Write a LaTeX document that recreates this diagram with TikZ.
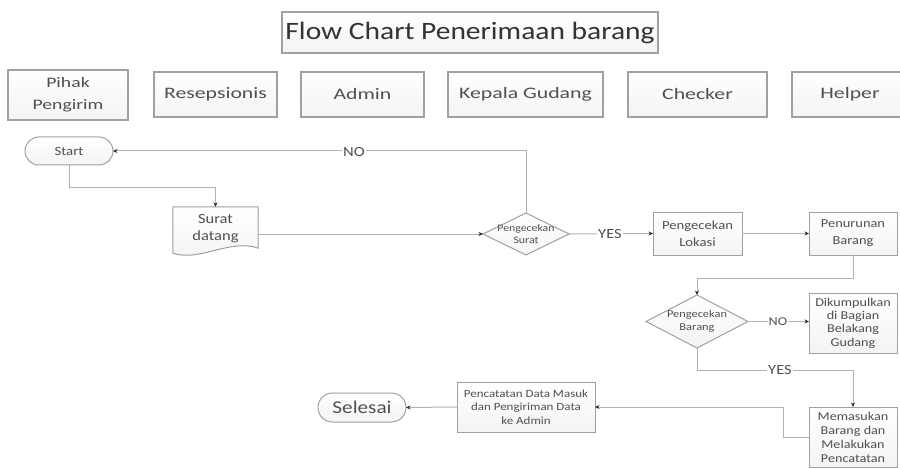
\documentclass[tikz,border=0pt]{standalone}
\usepackage{fontspec}
\setmainfont{Carlito}[FakeStretch=1.18]
\newfontfamily\hdrfont{Carlito}[FakeStretch=1.36]
\usetikzlibrary{shapes.geometric,shapes.misc,arrows.meta,calc}

\definecolor{edgegray}{RGB}{178,178,178}
\definecolor{bordgray}{RGB}{160,160,160}
\definecolor{txtgray}{RGB}{80,80,80}
\definecolor{tipgray}{RGB}{40,40,40}
\newcommand\fsz[2]{\fontsize{#1}{#2}\selectfont}

\tikzset{
  boxbase/.style={draw=bordgray, line width=0.8pt, top color=white, bottom color=gray!9,
    align=center, text=txtgray, inner sep=0pt, outer sep=0pt},
  hdr/.style={boxbase, line width=1.3pt, minimum height=45pt, font=\hdrfont\fsz{16}{21}},
  procbox/.style={boxbase, line width=1pt},
  terminal/.style={boxbase, rounded rectangle, line width=1pt},
  decision/.style={boxbase, diamond, line width=1pt},
  plaintext/.style={align=center, text=txtgray, inner sep=0pt},
  conn/.style={draw=edgegray, line width=1pt,
    -{Stealth[length=4.5pt,width=4pt,color=tipgray]}},
  lbl/.style={fill=white, text=txtgray, inner sep=1pt, font=\fsz{14}{16}},
}

\begin{document}
\begin{tikzpicture}[x=1pt,y=-1pt]
\useasboundingbox (0,0) rectangle (900,468);

% title and role headers
\node[boxbase, line width=1.3pt, minimum width=376pt, minimum height=41pt,
  text=black!80, font=\fsz{25}{28}] (title) at (470,32.5) {Flow Chart Penerimaan barang};
\node[hdr, minimum width=120pt, minimum height=50pt, font=\hdrfont\fsz{14.5}{22}] (pihak) at (68,95) {Pihak\\Pengirim};
\node[hdr, minimum width=123pt] (resep) at (215.5,94.5) {Resepsionis};
\node[hdr, minimum width=123pt] (admin) at (362.5,94.5) {Admin};
\node[hdr, minimum width=155pt] (kepala) at (525.5,94.5) {Kepala Gudang};
\node[hdr, minimum width=139pt] (checker) at (697.5,94.5) {Checker};
\node[hdr, minimum width=116pt] (helper) at (850,94.5) {Helper};

% terminals
\node[terminal, minimum width=88pt, minimum height=28pt, font=\fsz{12.6}{15}] (start) at (69,151) {Start};
\node[terminal, minimum width=88pt, minimum height=29pt, font=\fsz{18}{20}] (sel) at (362,407.5) {Selesai};

% document shape with a wavy lower edge
\node[plaintext, minimum width=85pt, minimum height=43pt] (doc) at (215.5,228.5) {};
\coordinate (docwl) at ($(doc.south west)+(0,3)$);
\coordinate (docwr) at ($(doc.south east)+(0,-2)$);
\path[draw=bordgray, line width=1pt, top color=white, bottom color=gray!9]
  (doc.north west) -- (doc.north east) -- (docwr)
  .. controls ($(docwr)+(-28,-10)$) and ($(docwl)+(27,9)$) .. (docwl) -- cycle;
\node[plaintext, font=\fsz{14}{17}] (doctext) at (doc) {Surat\\datang};

% decisions: outline first, label on top
\node[decision, minimum width=86pt, minimum height=42pt] (d1) at (526,234) {};
\node[plaintext, font=\fsz{10}{12}] (d1text) at (d1) {Pengecekan\\Surat};
\node[decision, minimum width=102pt, minimum height=53pt] (d2) at (697,321.5) {};
\node[plaintext, font=\fsz{10.5}{13}] (d2text) at (d2) {Pengecekan\\Barang};

% process boxes
\node[procbox, minimum width=89pt, minimum height=43pt, font=\fsz{12.4}{17}] (lok) at (697.5,233.5) {Pengecekan\\Lokasi};
\node[procbox, minimum width=88pt, minimum height=43pt, font=\fsz{12.2}{17}] (pen) at (853,233.5) {Penurunan\\Barang};
\node[procbox, minimum width=88pt, minimum height=60pt, font=\fsz{12}{13.3}] (dik) at (853,323) {Dikumpulkan\\di Bagian\\Belakang\\Gudang};
\node[procbox, minimum width=88pt, minimum height=60pt, font=\fsz{12}{14}] (mem) at (853,437) {Memasukan\\Barang dan\\Melakukan\\Pencatatan};
\node[procbox, minimum width=138pt, minimum height=50pt, font=\fsz{11}{13.3}] (pc) at (526,407) {Pencatatan Data Masuk\\dan Pengiriman Data\\ke Admin};

% connectors
\draw[conn] (start.south) -- ++(0,23) -| (doc.north);
\draw[conn] (doc.east |- d1.west) -- (d1.west);
\draw[conn] (d1.north) |- (start.east);
\draw[conn] (d1.east) -- (lok.west);
\draw[conn] (lok.east) -- (pen.west);
\draw[conn] (pen.south) -- ++(0,23) -| (d2.north);
\draw[conn] (d2.east) -- (d2.east -| dik.west);
\draw[conn] (d2.south) -- ++(0,22) -| (mem.north);
\draw[conn] (mem.west) -- ++(-26,0) |- (pc.east);
\draw[conn] (pc.west) -- (sel.east);

% branch labels
\node[lbl] (noa) at (354,152) {NO};
\node[lbl] (yesa) at (610,234) {YES};
\node[lbl, font=\fsz{12}{14}] (nob) at (778,322) {NO};
\node[lbl] (yesb) at (780,370) {YES};
\end{tikzpicture}
\end{document}
